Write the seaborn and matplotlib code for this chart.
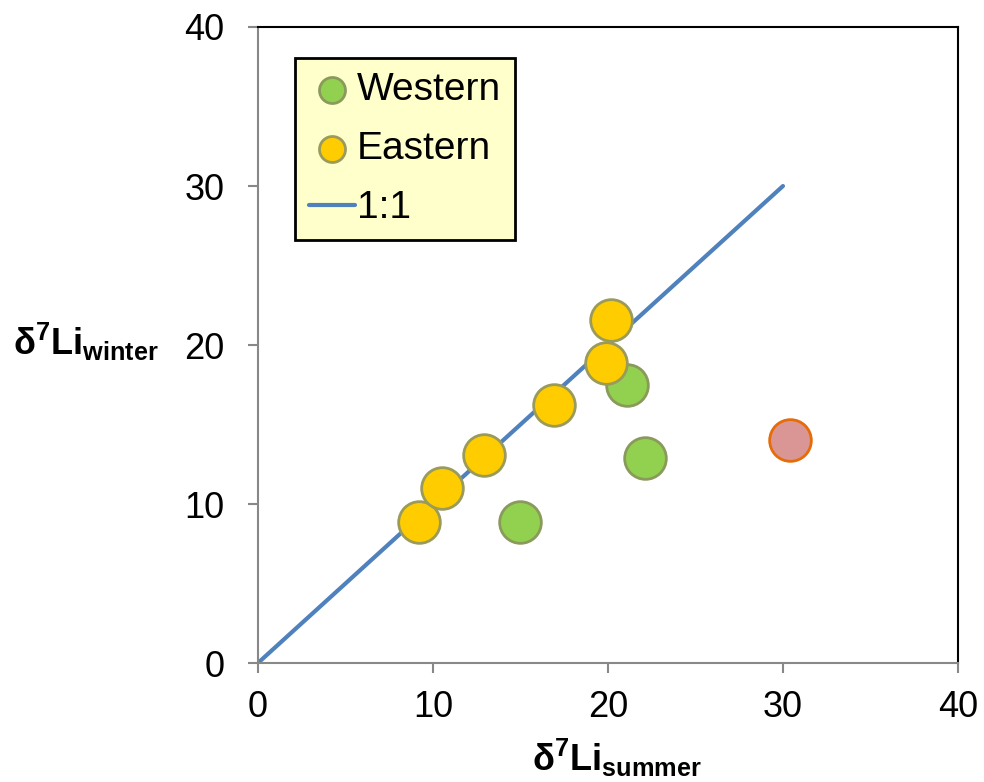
import matplotlib
matplotlib.use("Agg")
import matplotlib.pyplot as plt
import seaborn as sns
import pandas as pd
import numpy as np

sns.set_theme(style="white")
plt.rcParams['font.family'] = ['Liberation Sans', 'DejaVu Sans']
plt.rcParams['mathtext.fontset'] = 'custom'
plt.rcParams['mathtext.rm'] = 'Liberation Sans'
plt.rcParams['mathtext.bf'] = 'Liberation Sans:bold'
plt.rcParams['mathtext.it'] = 'Liberation Sans:italic'
plt.rcParams['text.color'] = 'black'

# data
western_summer = [15.0, 21.1, 22.1]
western_winter = [8.9, 17.5, 12.9]
eastern_summer = [9.2, 10.5, 12.9, 16.9, 19.9, 20.2]
eastern_winter = [8.9, 11.0, 13.1, 16.2, 18.9, 21.6]
other_summer = [30.4]
other_winter = [14.0]
line_x = list(range(0, 31))
line_y = list(range(0, 31))
ticks = [0, 10, 20, 30, 40]

fig = plt.figure(figsize=(9.84, 7.82), dpi=100)
ax = fig.add_axes([0.262, 0.152, 0.7116, 0.8135])

sns.lineplot(x=line_x, y=line_y, ax=ax, color='#4f81bd', lw=3, label='1:1', zorder=2)
sns.scatterplot(x=western_summer, y=western_winter, ax=ax, s=900, color='#92d050',
                edgecolor='#8a9a5b', linewidth=2, label='Western', zorder=3)
sns.scatterplot(x=eastern_summer, y=eastern_winter, ax=ax, s=900, color='#ffcc00',
                edgecolor='#9a9a5a', linewidth=2, label='Eastern', zorder=4)
sns.scatterplot(x=other_summer, y=other_winter, ax=ax, s=900, color='#d99694',
                edgecolor='#e46c0a', linewidth=2, zorder=3)

ax.set_xlim(0, 40)
ax.set_ylim(0, 40)
ax.set_xticks(ticks)
ax.set_yticks(ticks)
ax.tick_params(axis='both', labelsize=26, length=7, width=1.5, color='#888888',
               labelcolor='black', direction='out', bottom=True, left=True)
ax.tick_params(axis='x', pad=12)
ax.tick_params(axis='y', pad=17)
for side in ['left', 'bottom']:
    ax.spines[side].set_color('#888888')
    ax.spines[side].set_linewidth(1.5)
for side in ['top', 'right']:
    ax.spines[side].set_color('black')
    ax.spines[side].set_linewidth(1.5)
ax.set_xlabel('')
ax.set_ylabel('')

fig.text(0.627, 0.004, r'$\mathbf{\delta^7Li_{summer}}$', fontsize=26, ha='center', va='bottom')
fig.text(0.013, 0.563, r'$\mathbf{\delta^7Li_{winter}}$', fontsize=26, ha='left', va='center')

handles, labels = ax.get_legend_handles_labels()
order = [labels.index('Western'), labels.index('Eastern'), labels.index('1:1')]
leg = ax.legend([handles[i] for i in order], [labels[i] for i in order],
                loc='upper left', bbox_to_anchor=(0.053, 0.951), fontsize=28,
                frameon=True, fancybox=False, facecolor='#ffffcc', edgecolor='black',
                framealpha=1, handlelength=1.2, handletextpad=0.05, borderpad=0.35,
                labelspacing=0.6, borderaxespad=0)
leg.get_frame().set_linewidth(2)
for h in leg.legend_handles:
    try:
        h.set_sizes([350])
    except Exception:
        pass

fig.savefig('out.png', dpi=100)
